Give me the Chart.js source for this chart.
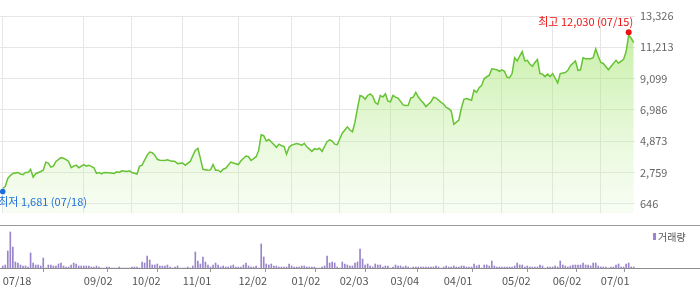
<!DOCTYPE html>
<html>
<head>
<meta charset="utf-8">
<script src="https://cdn.jsdelivr.net/npm/chart.js@4.4.1/dist/chart.umd.min.js"></script>
<style>
body { margin: 0; background: #fff; }
#wrap { position: relative; width: 700px; height: 289px; overflow: hidden; }
canvas { position: absolute; left: 0; }
#priceChart { top: 0; }
#volChart { top: 225px; }
</style>
</head>
<body>
<div id="wrap">
  <canvas id="priceChart" width="700" height="225"></canvas>
  <canvas id="volChart" width="700" height="64"></canvas>
</div>
<script>
// trading day index (0 = 07/18) and close price
const days = [0,1,2,3,4,6,7,8,9,10,11,12,13,15,16,17,18,19,20,21,23,24,25,26,27,28,29,30,32,33,34,36,37,38,39,40,42,44,45,46,47,49,50,51,53,54,55,57,58,59,60,61,62,64,65,66,68,69,71,72,74,75,76,77,78,79,81,82,83,84,85,86,87,88,90,91,93,94,96,97,98,100,101,102,103,104,105,106,108,109,110,111,112,113,114,116,117,118,119,120,122,123,124,125,126,128,129,130,131,132,134,135,136,137,138,139,140,141,142,143,144,145,146,147,148,149,150,151,152,153,154,155,156,158,159,160,161,162,163,164,165,166,167,169,170,171,173,174,175,176,177,178,179,180,181,182,183,185,186,187,188,189,190,192,193,195,196,197,198,199,200,201,202,203,205,206,207,208,209,210,211,212,213,214,215,216,217,218,219,220,222,223,224,226,227,228,229,230,232,233,234,235,236,237,239,240,242,243,245,246,247,248,249];
const prices = [1681,1810,2363,2554,2700,2764,2662,2618,2764,2760,2980,2446,2681,2827,2917,3463,3400,3126,3190,3508,3762,3718,3635,3508,3082,3190,3254,3082,3298,3190,3254,3082,2700,2764,2662,2764,2745,2700,2808,2764,2872,2827,2872,2764,2662,3190,3254,3934,4144,4099,3934,3654,3591,3572,3616,3553,3508,3362,3400,3254,3508,3890,4252,4398,3718,2980,2917,2936,3298,2917,2917,2789,2980,3044,3463,3400,3298,3553,3871,3826,3572,3826,4252,5308,5244,4888,4990,4825,4462,4672,4570,4526,3998,4462,4608,4716,4672,4589,4735,4494,4189,4367,4316,4398,4189,4843,4971,4888,4672,4634,5416,5626,5842,5626,5511,6160,7114,7960,7896,7706,7960,8068,7915,7483,7369,7960,7852,8068,7578,7534,7960,7852,7788,7324,7279,7292,7788,7852,8170,7852,7642,7451,7216,7534,7852,7788,7496,7369,7152,7070,6898,6007,6160,6306,7114,7706,7750,7642,8323,8170,8488,8641,9105,9334,9760,9697,9595,9697,9595,9187,9168,9442,10504,10294,10930,10294,10332,10078,9932,10186,10396,9442,9404,9232,9404,9232,9442,9124,8806,9442,9506,9658,9976,10294,9658,9697,10504,10440,10440,10504,11095,10612,10186,10122,9697,9913,10332,10141,10396,10930,12030,11821,11522];

// daily volume (thousand shares), one per trading day 0..249
const volumes = [20,30,170,360,210,60,50,30,20,20,10,150,50,30,30,20,100,0,30,30,20,20,40,50,20,10,10,30,50,40,20,20,20,20,20,10,10,20,10,0,0,10,10,0,0,0,10,0,0,0,0,10,10,10,0,60,50,120,80,30,30,40,20,20,20,30,10,0,10,20,0,0,0,10,0,20,160,70,40,110,60,30,10,30,50,30,10,20,10,10,20,30,10,10,10,30,50,20,10,10,20,0,240,110,40,30,40,20,20,10,10,10,10,40,20,10,10,10,20,20,10,10,10,10,0,0,10,20,120,50,60,50,10,0,60,40,30,20,20,50,60,190,90,30,40,20,10,40,30,30,10,20,20,0,10,30,20,20,10,20,10,0,10,10,10,10,10,10,10,10,10,20,10,0,10,20,10,10,20,10,10,20,20,10,10,10,40,20,30,0,30,30,20,70,20,10,10,10,10,10,10,10,20,50,30,30,10,20,10,10,10,10,30,20,0,10,10,10,20,10,70,30,20,10,20,30,30,30,30,50,30,30,20,50,50,20,10,10,10,0,10,10,30,40,10,10,40,50,10,10];

const tickDays = [0, 32, 51, 71, 93, 114, 133, 153, 174, 197, 217, 236];
const tickLabels = ['07/18','09/02','10/02','11/01','12/02','01/02','02/03','03/04','04/01','05/02','06/02','07/01'];
const priceTicks = [646, 2759, 4873, 6986, 9099, 11213, 13326];
const lowDate = '07/18';
const highDate = '07/15';

Chart.defaults.font.family = "'Noto Sans CJK KR', 'DejaVu Sans', sans-serif";
Chart.defaults.devicePixelRatio = 1;

const xMin = -1.07, xMax = 249.5;
const fmt = v => v.toLocaleString('en-US');

const markPlugin = {
  id: 'marks',
  afterDatasetsDraw(chart) {
    const {ctx, scales: {x, y}} = chart;
    const hi = prices.indexOf(Math.max(...prices));
    const lo = prices.indexOf(Math.min(...prices));
    ctx.save();
    ctx.font = "11px 'Noto Sans CJK KR', sans-serif";
    ctx.textBaseline = 'middle';
    // highest
    let px = x.getPixelForValue(days[hi]), py = y.getPixelForValue(prices[hi]);
    ctx.fillStyle = '#ee1111';
    ctx.beginPath(); ctx.arc(px, py - 3, 3, 0, Math.PI * 2); ctx.fill();
    ctx.textAlign = 'right';
    ctx.fillText('최고 ' + fmt(prices[hi]) + ' (' + highDate + ')', px + 4.5, py - 13.5);
    // lowest
    px = x.getPixelForValue(days[lo]); py = y.getPixelForValue(prices[lo]);
    ctx.fillStyle = '#1e6fd9';
    ctx.beginPath(); ctx.arc(px, py + 3, 2.8, 0, Math.PI * 2); ctx.fill();
    ctx.textAlign = 'left';
    ctx.fillText('최저 ' + fmt(prices[lo]) + ' (' + lowDate + ')', px - 4.5, py + 13.5);
    ctx.restore();
  }
};

new Chart(document.getElementById('priceChart'), {
  type: 'line',
  data: {
    datasets: [{
      data: days.map((d, i) => ({x: d, y: prices[i]})),
      borderColor: '#66c333',
      borderWidth: 1.5,
      pointRadius: 0,
      tension: 0,
      fill: 'start',
      backgroundColor: (c) => {
        const area = c.chart.chartArea;
        if (!area) return 'rgba(190,238,150,0.5)';
        const g = c.chart.ctx.createLinearGradient(0, area.top, 0, area.bottom);
        g.addColorStop(0, 'rgba(150,225,90,0.6)');
        g.addColorStop(1, 'rgba(205,242,175,0.15)');
        return g;
      }
    }]
  },
  options: {
    responsive: false,
    animation: false,
    layout: {padding: {top: 16, left: 0, right: 0, bottom: 0}},
    plugins: {legend: {display: false}, tooltip: {enabled: false}},
    scales: {
      x: {
        type: 'linear', min: xMin, max: xMax,
        afterBuildTicks: s => { s.ticks = tickDays.map(v => ({value: v})); },
        afterFit: s => { s.height = 0; },
        grid: {color: '#e6e6e6', drawTicks: false},
        border: {display: false},
        ticks: {display: false}
      },
      y: {
        position: 'right', min: 0, max: 13326,
        afterBuildTicks: s => { s.ticks = priceTicks.map(v => ({value: v})); },
        afterFit: s => { s.width = 65; },
        grid: {color: '#e6e6e6', drawTicks: false},
        border: {display: false},
        ticks: {padding: 5, color: '#666', font: {size: 11}, autoSkip: false, callback: v => fmt(v)}
      }
    }
  },
  plugins: [markPlugin]
});

const volPlugin = {
  id: 'volDecor',
  beforeDraw(chart) {
    const {ctx, chartArea} = chart;
    ctx.save();
    ctx.strokeStyle = '#999';
    ctx.lineWidth = 1;
    ctx.beginPath();
    ctx.moveTo(0, 0.5); ctx.lineTo(chart.width, 0.5);
    ctx.stroke();
    ctx.restore();
  },
  afterDraw(chart) {
    const {ctx, chartArea} = chart;
    ctx.save();
    ctx.strokeStyle = '#8c8c8c';
    ctx.lineWidth = 1;
    ctx.beginPath();
    ctx.moveTo(0, Math.round(chartArea.bottom) + 0.5);
    ctx.lineTo(chart.width, Math.round(chartArea.bottom) + 0.5);
    ctx.stroke();
    ctx.fillStyle = '#9a84cc';
    ctx.fillRect(653, 8, 3, 7);
    ctx.fillStyle = '#555';
    ctx.font = "10px 'Noto Sans CJK KR', sans-serif";
    ctx.textBaseline = 'middle';
    ctx.textAlign = 'left';
    ctx.fillText('거래량', 658, 12);
    ctx.restore();
  }
};

new Chart(document.getElementById('volChart'), {
  type: 'bar',
  data: {
    datasets: [{
      data: volumes.map((v, i) => ({x: i, y: v})),
      backgroundColor: '#9a84cc',
      barThickness: 1
    }]
  },
  options: {
    responsive: false,
    animation: false,
    layout: {padding: {top: 3, right: 65, left: 0, bottom: 0}},
    plugins: {legend: {display: false}, tooltip: {enabled: false}},
    scales: {
      x: {
        type: 'linear', min: xMin, max: xMax, offset: false,
        afterBuildTicks: s => { s.ticks = tickDays.map(v => ({value: v})); },
        afterFit: s => { s.height = 21; },
        grid: {drawOnChartArea: false, drawTicks: true, tickLength: 4, color: '#999'},
        border: {display: false},
        ticks: {
          align: 'start', padding: 2, color: '#555', font: {size: 11},
          autoSkip: false, maxRotation: 0,
          callback: v => tickLabels[tickDays.indexOf(v)]
        }
      },
      y: {display: false, min: 0, max: 400}
    }
  },
  plugins: [volPlugin]
});
</script>
</body>
</html>
